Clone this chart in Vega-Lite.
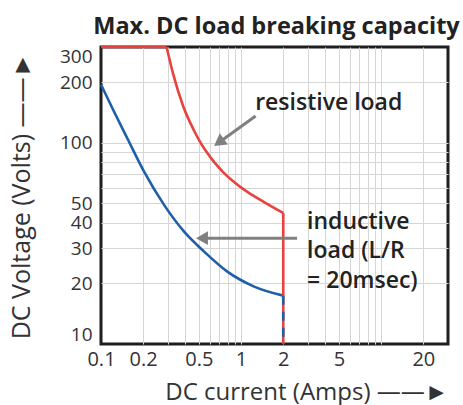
{
  "$schema": "https://vega.github.io/schema/vega-lite/v6.json",
  "width": 347,
  "height": 297,
  "autosize": {"type": "none"},
  "padding": {"left": 101, "top": 47, "right": 15, "bottom": 61},
  "background": "white",
  "title": {"text": "Max. DC load breaking capacity", "fontSize": 23.5, "fontWeight": "bold", "color": "#222222", "frame": "group", "anchor": "middle", "offset": 3, "dx": 2},
  "config": {
    "font": "Open Sans",
    "view": {"stroke": "#1e1e1e", "strokeWidth": 3},
    "axis": {
      "grid": true,
      "gridColor": "#d6d6d6",
      "gridWidth": 1,
      "domain": false,
      "ticks": false,
      "labelColor": "#333333",
      "labelFontSize": 20,
      "titleColor": "#333333",
      "titleFontSize": 25,
      "titleFontWeight": "normal"
    }
  },
  "datasets": {
    "curves": [
      {"load": "resistive", "segment": "flat", "x": 0.1, "y": 300},
      {"load": "resistive", "segment": "flat", "x": 0.294, "y": 300},
      {"load": "resistive", "segment": "curve", "x": 0.294, "y": 300},
      {"load": "resistive", "segment": "curve", "x": 0.327, "y": 221},
      {"load": "resistive", "segment": "curve", "x": 0.385, "y": 153},
      {"load": "resistive", "segment": "curve", "x": 0.462, "y": 115},
      {"load": "resistive", "segment": "curve", "x": 0.518, "y": 99.3},
      {"load": "resistive", "segment": "curve", "x": 0.581, "y": 88.1},
      {"load": "resistive", "segment": "curve", "x": 0.652, "y": 79.3},
      {"load": "resistive", "segment": "curve", "x": 0.756, "y": 70.8},
      {"load": "resistive", "segment": "curve", "x": 0.891, "y": 63.9},
      {"load": "resistive", "segment": "curve", "x": 1.05, "y": 58.6},
      {"load": "resistive", "segment": "curve", "x": 1.238, "y": 54.4},
      {"load": "resistive", "segment": "curve", "x": 1.46, "y": 50.8},
      {"load": "resistive", "segment": "curve", "x": 2, "y": 44.8},
      {"load": "inductive", "segment": "curve", "x": 0.1, "y": 195},
      {"load": "inductive", "segment": "curve", "x": 0.124, "y": 143},
      {"load": "inductive", "segment": "curve", "x": 0.154, "y": 105.5},
      {"load": "inductive", "segment": "curve", "x": 0.203, "y": 72},
      {"load": "inductive", "segment": "curve", "x": 0.282, "y": 49.2},
      {"load": "inductive", "segment": "curve", "x": 0.392, "y": 36.2},
      {"load": "inductive", "segment": "curve", "x": 0.545, "y": 28.8},
      {"load": "inductive", "segment": "curve", "x": 0.798, "y": 22.9},
      {"load": "inductive", "segment": "curve", "x": 1.24, "y": 19.3},
      {"load": "inductive", "segment": "curve", "x": 2, "y": 17.4}
    ],
    "drops": [
      {"load": "resistive", "x": 2, "y": 44.8, "y2": 10},
      {"load": "inductive", "x": 2, "y": 17.4, "y2": 10}
    ],
    "notes": [
      {"text": "resistive load", "x": 1.26, "y": 158},
      {"text": "inductive", "x": 2.96, "y": 40.5},
      {"text": "load (L/R", "x": 2.96, "y": 29},
      {"text": "= 20msec)", "x": 2.96, "y": 20.6}
    ],
    "arrows": [
      {"arrow": "resistive", "x": 1.27, "y": 136, "x2": 0.695, "y2": 100.6},
      {"arrow": "inductive", "x": 2.51, "y": 33.6, "x2": 0.526, "y2": 33.6}
    ],
    "heads": [
      {"arrow": "resistive", "x": 0.695, "y": 100.6},
      {"arrow": "inductive", "x": 0.526, "y": 33.6}
    ]
  },
  "encoding": {
    "x": {
      "field": "x",
      "type": "quantitative",
      "scale": {"type": "log", "domain": [0.1, 30], "nice": false},
      "axis": {
        "title": "DC current (Amps) ——►",
        "titleFontSize": 24,
        "values": [0.1, 0.2, 0.3, 0.4, 0.5, 0.6, 0.7, 0.8, 0.9, 1, 2, 3, 4, 5, 6, 7, 8, 9, 10, 20],
        "labelExpr": "indexof([0.1, 0.2, 0.5, 1, 2, 5, 20], datum.value) >= 0 ? datum.label : ''",
        "format": "~g",
        "gridOpacity": {"condition": {"test": "datum.value == 0.1", "value": 0}, "value": 1},
        "titleAnchor": "end",
        "labelPadding": 5,
        "titlePadding": 11,
        "labelOverlap": false,
        "labelFlush": false,
        "labelBound": false
      }
    },
    "y": {
      "field": "y",
      "type": "quantitative",
      "scale": {"type": "log", "domain": [10, 300], "nice": false},
      "axis": {
        "title": "DC Voltage (Volts) ——►",
        "labelFontSize": 19,
        "values": [10, 20, 30, 40, 50, 60, 70, 80, 90, 100, 200, 300],
        "labelExpr": "indexof([10, 20, 30, 40, 50, 100, 200, 300], datum.value) >= 0 ? datum.label : ''",
        "format": "~g",
        "gridOpacity": {"condition": {"test": "datum.value == 10 || datum.value == 300", "value": 0}, "value": 1},
        "labelPadding": 9,
        "titlePadding": 25,
        "labelOverlap": false,
        "labelFlush": true
      }
    }
  },
  "layer": [
    {
      "data": {"name": "curves"},
      "mark": {"type": "line", "strokeWidth": 2.6, "clip": false, "interpolate": "monotone"},
      "encoding": {
        "color": {"field": "load", "type": "nominal", "scale": {"domain": ["resistive", "inductive"], "range": ["#e8413e", "#1f5ea8"]}, "legend": null},
        "detail": {"field": "segment", "type": "nominal"}
      }
    },
    {
      "data": {"name": "drops"},
      "transform": [{"filter": "datum.load === 'resistive'"}],
      "mark": {"type": "rule", "strokeWidth": 2.6, "color": "#e8413e"},
      "encoding": {"y2": {"field": "y2"}}
    },
    {
      "data": {"name": "drops"},
      "transform": [{"filter": "datum.load === 'inductive'"}],
      "mark": {"type": "rule", "strokeWidth": 2.6, "color": "#1f5ea8", "strokeDash": [9, 7]},
      "encoding": {"y2": {"field": "y2"}}
    },
    {
      "data": {"name": "notes"},
      "mark": {"type": "text", "align": "left", "baseline": "middle", "fontSize": 23, "fontWeight": 600, "color": "#222222"},
      "encoding": {"text": {"field": "text"}}
    },
    {
      "data": {"name": "arrows"},
      "mark": {"type": "rule", "color": "#808080", "strokeWidth": 3},
      "encoding": {"x2": {"field": "x2"}, "y2": {"field": "y2"}}
    },
    {
      "data": {"name": "heads"},
      "transform": [{"filter": "datum.arrow === 'resistive'"}],
      "mark": {"type": "point", "shape": "triangle-left", "filled": true, "color": "#808080", "opacity": 1, "size": 190, "angle": 324}
    },
    {
      "data": {"name": "heads"},
      "transform": [{"filter": "datum.arrow === 'inductive'"}],
      "mark": {"type": "point", "shape": "triangle-left", "filled": true, "color": "#808080", "opacity": 1, "size": 190, "angle": 0}
    }
  ]
}
